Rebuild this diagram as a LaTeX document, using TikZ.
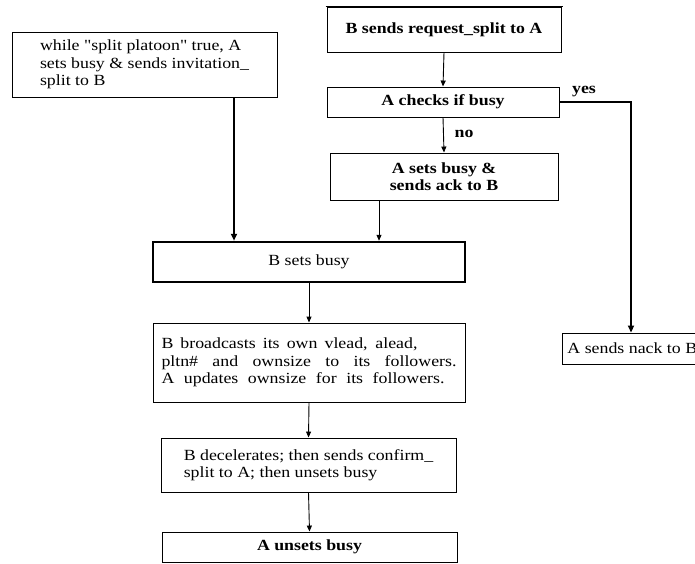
\documentclass[tikz,border=0pt]{standalone}
\usepackage{fontspec}
\setmainfont[FakeStretch=1.15, Ligatures=TeXOff]{Liberation Serif}
\usetikzlibrary{arrows.meta}
\begin{document}
\begin{tikzpicture}[x=1pt,y=-1pt,
  every node/.style={font=\fontsize{15.5}{17.5}\selectfont},
  box/.style={draw, line width=0.9pt, inner sep=0pt, align=center},
  lbox/.style={box, align=left},
  bbox/.style={box, font=\fontsize{15.5}{17.5}\selectfont\bfseries},
  conn/.style={line width=0.9pt, -{Triangle[length=6pt,width=5pt]}},
  thickconn/.style={line width=2.2pt, -{Triangle[length=7pt,width=6pt]}},
  lbl/.style={font=\fontsize{15.5}{17.5}\selectfont\bfseries, inner sep=0pt}]
\path[use as bounding box] (0,0) rectangle (695,564);
\clip (0,0) rectangle (695,564);

\node[lbox, minimum width=265pt, minimum height=65pt] (b1) at (144.5,64.5)
  {while "split platoon" true, A\\sets busy \& sends invitation\_\\split to B};
\node[bbox, minimum width=234pt, minimum height=45pt] (b2) at (444,29.5)
  {B sends request\_split to A};
\node[bbox, minimum width=232pt, minimum height=30pt] (b3) at (443,102)
  {A checks if busy};
\node[bbox, minimum width=228pt, minimum height=47pt] (b4) at (444,176.5)
  {A sets busy \&\\sends ack to B};
\node[box, line width=2.5pt, minimum width=312pt, minimum height=40pt] (b5) at (309,262)
  {B sets busy};
\node[lbox, minimum width=312pt, minimum height=79pt] (b6) at (309,362.5)
  {\makebox[256pt][s]{B broadcasts its own vlead, alead,}\\
   \makebox[295pt][s]{pltn\# and ownsize to its followers.}\\
   \makebox[283pt][s]{A updates ownsize for its followers.}};
\node[lbox, minimum width=295pt, minimum height=54pt] (b7) at (308.5,465)
  {B decelerates; then sends confirm\_\\split to A; then unsets busy};
\node[bbox, minimum width=295pt, minimum height=30pt] (b8) at (309.5,547)
  {A unsets busy};
\node[box, anchor=west, inner xsep=5pt, minimum height=31pt] (nack) at (562,348.5)
  {A sends nack to B};

\draw[line width=1.6pt] ([xshift=-1pt]b2.north west) -- ([xshift=2pt]b2.north east);

\coordinate (xl) at (234,0);
\coordinate (xa) at (379,0);
\coordinate (xy) at (631,0);

\draw[thickconn] (xl |- b1.south) -- (xl |- b5.north);
\draw[conn] (b2.south) -- (b3.north);
\draw[conn] (b3.south) -- (b4.north);
\node[lbl] (no) at (464,134) {no};
\draw[conn] (xa |- b4.south) -- (xa |- b5.north);
\draw[line width=2.5pt, -{Triangle[length=7pt,width=6pt]}] (b3.east) -- (xy |- b3.east) -- (xy |- nack.north);
\node[lbl] (yes) at (584,92) {yes};
\draw[conn] (b5.south) -- (b6.north);
\draw[conn] (b6.south) -- (b7.north);
\draw[conn] (b7.south) -- (b8.north);
\end{tikzpicture}
\end{document}
